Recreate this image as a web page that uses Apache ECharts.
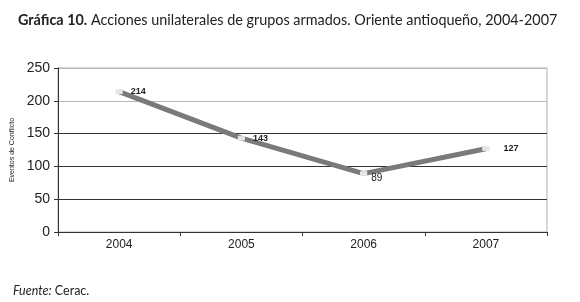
<!DOCTYPE html>
<html>
<head>
<meta charset="utf-8">
<title></title>
<script type="text/javascript" src="https://cdn.jsdelivr.net/npm/echarts@6/dist/echarts.min.js"></script>
<style>
body { margin: 0; background: #fff; }
</style>
</head>
<body>

<div id="main" style="width: 580px;height:302px;"></div>

<script type="text/javascript">

let YEARS = ['2004', '2005', '2006', '2007'];
let EVENTOS = [214, 143, 89, 127];
let Y_TICKS = [0, 50, 100, 150, 200, 250];

var myChart = echarts.init(document.getElementById('main'));

var option = {
	backgroundColor: '#fff',
	animation: false,
	title: [{
		text: '{b|Gráfica 10.} Acciones unilaterales de grupos armados. Oriente antioqueño, 2004-2007',
		left: 13, top: 8,
		textStyle: {
			fontFamily: 'Lato', fontSize: 14.4, fontWeight: 'normal', color: '#222',
			rich: { b: { fontFamily: 'Lato', fontSize: 14.4, fontWeight: 'bold', color: '#222' } }
		}
	}, {
		text: '{i|Fuente:} Cerac.',
		left: 8, top: 279,
		textStyle: {
			fontFamily: 'Lato', fontSize: 12.5, fontWeight: 'normal', color: '#222',
			rich: { i: { fontFamily: 'Lato', fontSize: 12.5, fontStyle: 'italic', color: '#222' } }
		}
	}],
	grid: { left: 58, right: 33, top: 68, bottom: 70, show: true, borderColor: '#b0b0b0', borderWidth: 1 },
	xAxis: {
		type: 'category',
		data: YEARS,
		axisLine: { lineStyle: { color: '#333' } },
		axisTick: { show: true, inside: false, length: 4, lineStyle: { color: '#333' } },
		axisLabel: { color: '#222', fontFamily: 'Liberation Sans', fontSize: 12, margin: 7 }
	},
	yAxis: {
		type: 'value',
		min: Y_TICKS[0], max: Y_TICKS[Y_TICKS.length - 1], interval: 50,
		name: 'Eventos de Conflicto',
		nameLocation: 'middle', nameGap: 38,
		nameTextStyle: { fontFamily: 'Liberation Sans', fontSize: 7, color: '#222' },
		axisLine: { show: true, lineStyle: { color: '#333' } },
		axisTick: { show: true, length: 4, lineStyle: { color: '#333' } },
		axisLabel: { color: '#222', fontFamily: 'Liberation Sans', fontSize: 14, margin: 8 },
		splitLine: { show: true, lineStyle: { color: ['#333', '#333', '#333', '#333', '#b8b8b8', '#b8b8b8'], width: 1 } }
	},
	series: [{
		type: 'line',
		data: EVENTOS,
		lineStyle: { color: '#7a7a7a', width: 5 },
		symbol: 'rect', symbolSize: [6, 4],
		itemStyle: { color: '#e6e6e6', borderColor: '#e6e6e6' },
		label: {
			show: true, position: 'right', distance: 8,
			fontFamily: 'Liberation Sans', fontSize: 9, fontWeight: 'bold', color: '#222'
		},
		z: 3
	}]
};

option.series[0].data = EVENTOS.map((v, i) => {
	if (i === 2) return { value: v, label: { position: 'right', distance: 4, offset: [0, 5], fontWeight: 'normal', fontSize: 10 } };
	if (i === 3) return { value: v, label: { distance: 14 } };
	return v;
});

myChart.setOption(option);

</script>

</body>
</html>
